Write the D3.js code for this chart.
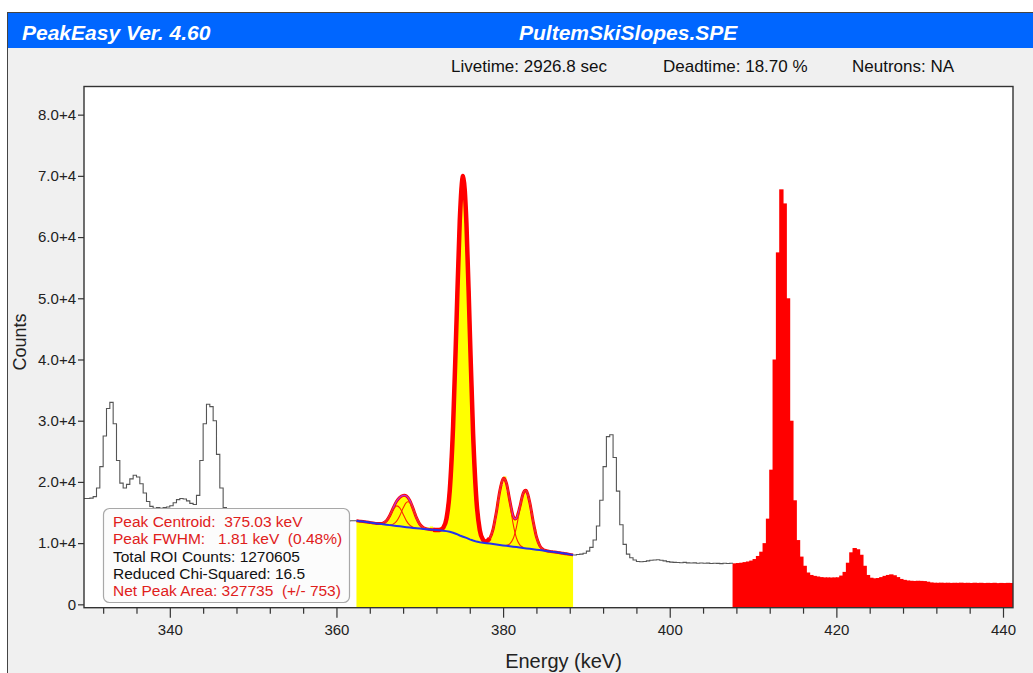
<!DOCTYPE html>
<html><head><meta charset="utf-8">
<script src="https://cdn.jsdelivr.net/npm/d3@7"></script>
<style>
body{margin:0;background:#fff;}
svg{display:block;font-family:"Liberation Sans",Arial,sans-serif;}
</style></head><body>
<svg id="c" width="1033" height="673"></svg>
<script>
// ---------- DATA ----------
const channelStart = 329.6, channelWidth = 0.4;
// 329.6 - 362.4 keV (black outline)
const countsPre = [17300,17300,17350,17600,19000,22500,27500,32000,33000,29500,
 23500,19800,19000,19600,20500,21100,20800,19700,18200,16800,
 16000,15700,15800,15700,15800,15900,16100,16600,17100,17300,
 17200,16900,16500,16300,17800,23500,29500,32700,32300,30000,
 24500,19000,15800,14800,14500,14300,14300,14200,14100,14100,
 14000,14000,13950,13900,13900,13850,13850,13800,13800,13800,
 13750,13750,13700,13700,13700,13700,13650,13650,13650,13600,
 13650,13600,13600,13650,13600,13600,13600,13600,13650,13600,
 13650,13650];
// 362.4 - 388.4 keV (fitted ROI, yellow)
const countsROI = [13620,13560,13480,13400,13340,13260,13210,13230,13450,14080,
 15100,16250,17150,17650,17750,17350,16300,14900,13650,12850,
 12450,12550,12700,12200,12250,12600,13300,16300,23870,37450,
 54800,68100,67900,54200,35800,21600,14000,11100,10250,10500,
 11500,13700,16800,19500,20900,18400,15700,14300,15000,17000,
 18600,17600,15100,12300,10300,9300,8850,8700,8620,8530,
 8460,8380,8300,8200,8120];
// 388.4 - 407.6 keV (black outline)
const countsMid = [8050,8150,8200,8350,8700,9300,10500,12800,17000,22500,
 27400,27700,24000,18500,13000,9800,8200,7600,7250,7000,
 6950,7000,7100,7200,7250,7280,7200,7100,6980,6900,
 6850,6830,6800,6850,6780,6750,6780,6720,6750,6700,
 6730,6680,6720,6690,6650,6700,6680,6700];
// 407.6 - 441.2 keV (red ROI)
const countsRed = [6700,6750,6800,6900,7000,7150,7400,7900,8600,10000,
 14000,22000,40000,57500,67800,65500,50000,30000,17000,10500,
 7800,6300,5200,4800,4650,4550,4450,4400,4400,4380,
 4400,4420,4700,5300,6800,8500,9200,9000,8100,6300,
 4800,4350,4250,4300,4450,4650,4800,4900,4750,4450,
 4150,4000,3900,3850,3820,3850,3830,3800,3700,3580,
 3530,3520,3540,3510,3530,3500,3520,3510,3540,3500,
 3520,3490,3530,3500,3520,3480,3510,3490,3520,3470,
 3500,3480,3510,3490];

// Fit: baseline on grid 362.4 .. 388.4 step 0.4
const fitStart = 362.4, fitStep = 0.4;
const fitBaseline = [13660,13590,13520,13440,13370,13300,13220,13150,13070,13000,
 12940,12870,12810,12740,12680,12610,12550,12480,12420,12370,
 12320,12270,12230,12190,12150,12100,12040,11960,11860,11700,
 11500,11250,11050,10850,10620,10420,10250,10140,10070,9990,
 9920,9850,9770,9700,9630,9560,9490,9420,9350,9280,
 9210,9140,9070,9000,8930,8860,8790,8720,8650,8570,
 8500,8420,8340,8250,8160,8080];
// Peak components (net counts above baseline), each with its first grid energy
const peak1Start = 365.2, peak1 = [47,203,647,1511,2594,3268,3026,2057,1028,377,102,20];
const peak2Start = 366.4, peak2 = [57,235,735,1727,3049,4053,4053,3049,1727,735,235,57];
const peakMainStart = 372.0, peakMain = [10,78,451,1997,6756,17423,34274,51443,58900,51443,34274,17423,6756,1997,451,78,10];
const peak3Start = 378.0, peak3 = [218,843,2449,5355,8808,10902,10153,7117,3751,1485,444,100];
const peak4Start = 380.4, peak4 = [86,384,1283,3240,6147,8769,9415,7607,4625,2115,728,188,37];

const xMajorTicks = [340,360,380,400,420,440];
const xMinorTicks = [332,336,344,348,352,356,364,368,372,376,384,388,392,396,404,408,412,416,424,428,432,436];
const yTicks = [0,10000,20000,30000,40000,50000,60000,70000,80000];
const yTickLabels = ["0","1.0+4","2.0+4","3.0+4","4.0+4","5.0+4","6.0+4","7.0+4","8.0+4"];

const appTitle = "PeakEasy Ver. 4.60";
const fileTitle = "PultemSkiSlopes.SPE";
const headerItems = ["Livetime: 2926.8 sec","Deadtime: 18.70 %","Neutrons: NA"];
const infoLines = ["Peak Centroid:  375.03 keV","Peak FWHM:   1.81 keV  (0.48%)","Total ROI Counts: 1270605","Reduced Chi-Squared: 16.5","Net Peak Area: 327735  (+/- 753)"];
const infoRed = [true,true,false,false,true];

// ---------- LAYOUT ----------
const W = 1033, H = 673;
const P = {l:84, r:1013, t:86.5, b:607.7};
const FONT = "Liberation Sans, Arial, sans-serif";
const svg = d3.select("#c");

svg.append("rect").attr("width",W).attr("height",H).attr("fill","#fff");
svg.append("rect").attr("x",7.5).attr("y",12.5).attr("width",W).attr("height",H)
  .attr("fill","#f0f0f0").attr("stroke","#444").attr("stroke-width",1);
svg.append("rect").attr("x",8).attr("y",13).attr("width",W).attr("height",35).attr("fill","#0066ff");
svg.append("text").attr("x",22).attr("y",39.5).attr("fill","#fff")
  .attr("font-size",21).attr("font-weight","bold").attr("font-style","italic").text(appTitle);
svg.append("text").attr("x",519).attr("y",39.5).attr("fill","#fff")
  .attr("font-size",21).attr("font-weight","bold").attr("font-style","italic").text(fileTitle);
const headerX = [451,663,852];
headerItems.forEach((t,i)=>svg.append("text").attr("x",headerX[i]).attr("y",71.5)
  .attr("font-size",17).attr("fill","#111").text(t));

const x = d3.scaleLinear().domain([329.7,441.2]).range([P.l,P.r]);
const y = d3.scaleLinear().domain([-550,84600]).range([P.b,P.t]);

svg.append("rect").attr("x",P.l).attr("y",P.t).attr("width",P.r-P.l).attr("height",P.b-P.t).attr("fill","#fff");
svg.append("clipPath").attr("id","clip").append("rect")
  .attr("x",P.l).attr("y",P.t).attr("width",P.r-P.l).attr("height",P.b-P.t);
const g = svg.append("g").attr("clip-path","url(#clip)");

function stepPoints(start, counts){
  const pts=[];
  counts.forEach((c,i)=>{
    const lo = Math.round((start+i*channelWidth)*1000)/1000;
    const hi = Math.round((start+(i+1)*channelWidth)*1000)/1000;
    pts.push([lo,c],[hi,c]);
  });
  return pts;
}
const preStart = channelStart;
const roiStart = preStart + countsPre.length*channelWidth;
const midStart = roiStart + countsROI.length*channelWidth;
const redStart = midStart + countsMid.length*channelWidth;

const area = d3.area().x(d=>x(d[0])).y0(P.b).y1(d=>y(d[1]));
const line = d3.line().x(d=>x(d[0])).y(d=>y(d[1]));

g.append("path").attr("d",area(stepPoints(roiStart,countsROI))).attr("fill","#ffff00");
// red ROI as overlapping channel bars
g.append("g").selectAll("rect").data(countsRed).join("rect")
  .attr("x",(c,i)=>x(redStart+i*channelWidth)-0.5)
  .attr("width",(c,i)=>x(redStart+(i+1)*channelWidth)-x(redStart+i*channelWidth)+1)
  .attr("y",c=>y(c)).attr("height",c=>P.b-y(c)).attr("fill","#ff0000");
g.append("path").attr("d",line(stepPoints(preStart,countsPre))).attr("fill","none").attr("stroke","#555").attr("stroke-width",1.1);
g.append("path").attr("d",line(stepPoints(midStart,countsMid))).attr("fill","none").attr("stroke","#555").attr("stroke-width",1.1);

// fit curves
const gi = e => Math.round((e-fitStart)/fitStep);
const fitE = fitBaseline.map((b,i)=>fitStart+i*fitStep);
const total = fitBaseline.slice();
const comps = [[peak1Start,peak1],[peak2Start,peak2],[peakMainStart,peakMain],[peak3Start,peak3],[peak4Start,peak4]];
comps.forEach(([s,vals])=>vals.forEach((v,j)=>{ total[gi(s+j*fitStep)] += v; }));
const smooth = d3.line().x(d=>x(d[0])).y(d=>y(d[1])).curve(d3.curveCatmullRom.alpha(0));
const totalPts = fitE.map((e,i)=>[e,total[i]]);
g.append("path").attr("d",smooth(totalPts)).attr("fill","none").attr("stroke","#ff0000").attr("stroke-width",3);
const seg = (a,b)=>totalPts.filter(p=>p[0]>=a-1e-6 && p[0]<=b+1e-6);
g.append("path").attr("d",smooth(seg(365.6,371.2))).attr("fill","none").attr("stroke","#c030c8").attr("stroke-width",1.4);
g.append("path").attr("d",smooth(seg(378.4,385.2))).attr("fill","none").attr("stroke","#c030c8").attr("stroke-width",1.2);
[[peak1Start,peak1],[peak2Start,peak2],[peak3Start,peak3],[peak4Start,peak4]].forEach(([s,vals])=>{
  const pts = vals.map((v,j)=>{const e=s+j*fitStep; return [e, fitBaseline[gi(e)]+v];});
  g.append("path").attr("d",smooth(pts)).attr("fill","none").attr("stroke","#ff2a00").attr("stroke-width",1.1);
});
g.append("path").attr("d",smooth(seg(371.6,378.4))).attr("fill","none").attr("stroke","#ff0000").attr("stroke-width",4.5);
g.append("path").attr("d",line(fitE.map((e,i)=>[e,fitBaseline[i]]))).attr("fill","none").attr("stroke","#2233ee").attr("stroke-width",2);

// frame + axes
svg.append("rect").attr("x",P.l).attr("y",P.t).attr("width",P.r-P.l).attr("height",P.b-P.t)
  .attr("fill","none").attr("stroke","#333").attr("stroke-width",1.4);
const ya = svg.append("g").attr("transform",`translate(${P.l},0)`)
  .call(d3.axisLeft(y).tickValues(yTicks).tickFormat((d,i)=>yTickLabels[i]).tickSize(6).tickPadding(2));
ya.select(".domain").remove();
ya.selectAll("text").attr("font-size",15).attr("fill","#222").attr("font-family",FONT);
ya.selectAll("line").attr("stroke","#333").attr("stroke-width",1.2);

const xmin = svg.append("g").attr("transform",`translate(0,${P.b})`)
  .call(d3.axisBottom(x).tickValues(xMinorTicks).tickFormat("").tickSize(6));
xmin.select(".domain").remove();
xmin.selectAll("line").attr("stroke","#333").attr("stroke-width",1.2);
const xa = svg.append("g").attr("transform",`translate(0,${P.b})`)
  .call(d3.axisBottom(x).tickValues(xMajorTicks).tickFormat(d=>String(d)).tickSize(10).tickPadding(7));
xa.select(".domain").remove();
xa.selectAll("line").attr("stroke","#333").attr("stroke-width",1.2);
xa.selectAll("text").attr("font-size",15).attr("fill","#222").attr("font-family",FONT);

svg.append("text").attr("x",(P.l+P.r)/2+15).attr("y",668).attr("text-anchor","middle")
  .attr("font-size",20).attr("fill","#222").text("Energy (keV)");
svg.append("text").attr("transform","translate(26,342) rotate(-90)").attr("text-anchor","middle")
  .attr("font-size",18).attr("fill","#222").text("Counts");

// info box
const ib = svg.append("g");
ib.append("rect").attr("x",103.5).attr("y",508.5).attr("width",246).attr("height",94).attr("rx",6)
  .attr("fill","#fcfcfc").attr("stroke","#a8a8a8").attr("stroke-width",1.2);
infoLines.forEach((t,i)=>ib.append("text").attr("x",113).attr("y",527+i*17.3)
  .attr("font-size",15.5).attr("fill",infoRed[i]?"#e0201b":"#111").style("white-space","pre").text(t));
</script>
</body></html>
